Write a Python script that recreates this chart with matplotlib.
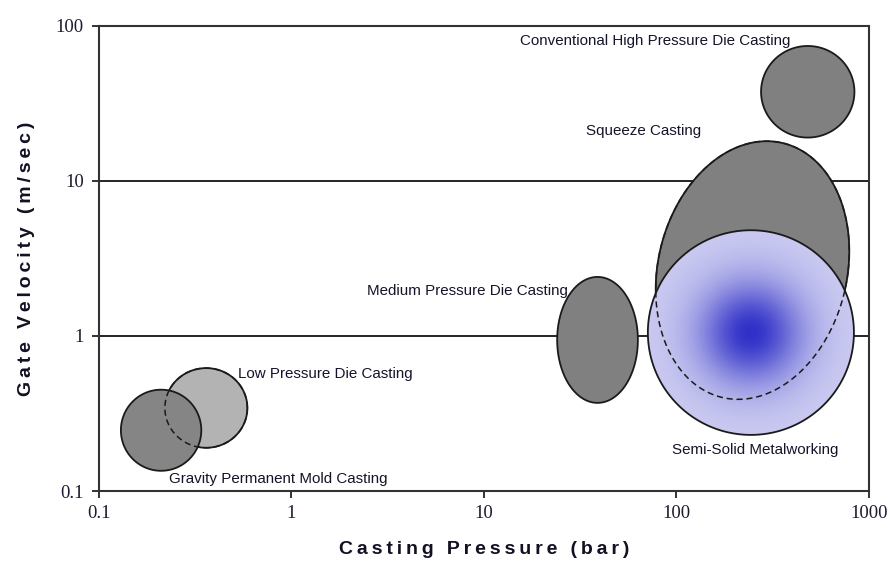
import numpy as np
import matplotlib.pyplot as plt
from matplotlib.patches import Polygon

# casting process windows: pressure range (bar) and gate velocity range (m/sec)
processes = ["Conventional High Pressure Die Casting", "Squeeze Casting",
             "Semi-Solid Metalworking", "Medium Pressure Die Casting",
             "Low Pressure Die Casting", "Gravity Permanent Mold Casting"]
pressure_lo = [275, 79, 71, 24, 0.22, 0.13]
pressure_hi = [840, 780, 835, 63, 0.59, 0.34]
velocity_lo = [19, 0.39, 0.23, 0.37, 0.19, 0.135]
velocity_hi = [74, 18, 4.8, 2.4, 0.62, 0.45]

ticks = [0.1, 1, 10, 100, 1000]
tick_labels = ["0.1", "1", "10", "100", "1000"]

# where each name is written (left edge, middle of text)
label_x = [15.4, 33.9, 94.8, 2.47, 0.527, 0.231]
label_y = [80, 20.8, 0.184, 1.94, 0.567, 0.119]


def outline(i, shear=0.0, scale=1.0, n=240):
    # ellipse in log-log space, returned as data coordinates
    lx0, lx1 = np.log10(pressure_lo[i]), np.log10(pressure_hi[i])
    ly0, ly1 = np.log10(velocity_lo[i]), np.log10(velocity_hi[i])
    cx, cy = (lx0 + lx1) / 2, (ly0 + ly1) / 2
    a, b = (lx1 - lx0) / 2 * scale, (ly1 - ly0) / 2 * scale
    t = np.linspace(0, 2 * np.pi, n)
    u, v = a * np.cos(t), b * np.sin(t)
    return np.column_stack([10 ** (cx + u + shear * v), 10 ** (cy + v)])


def spaced(s):
    # loose letter spacing for the axis titles
    return "\u2009".join(s)


fig = plt.figure(figsize=(8.9, 5.66), dpi=100)
ax = fig.add_axes([0.1112, 0.1325, 0.8652, 0.8221])
ax.set_xscale("log")
ax.set_yscale("log")
ax.set_xlim(0.1, 1000)
ax.set_ylim(0.1, 100)

for yv in [1, 10]:
    ax.axhline(yv, color="black", lw=1.2, zorder=1)

edge = "#1a1a1a"
squeeze_shear = 0.089

def blob(i, color, z, shear=0.0):
    ax.add_patch(Polygon(outline(i, shear), closed=True, facecolor=color,
                         edgecolor=edge, lw=1.3, zorder=z))

def dashed(i, z, shear=0.0):
    ax.add_patch(Polygon(outline(i, shear), closed=True, fill=False,
                         edgecolor=edge, lw=1.1, ls=(0, (4, 2.5)), zorder=z))

# high pressure, squeeze and medium pressure
blob(0, "#808080", 3)
blob(1, "#808080", 3, squeeze_shear)
blob(3, "#808080", 3)

# semi-solid: radial blue shading built from concentric rings
c_edge = np.array([200, 200, 240]) / 255
c_mid = np.array([48, 48, 200]) / 255
sig = 0.5
base = np.exp(-(1 / sig) ** 2)
for r in np.linspace(1.0, 0.01, 90):
    f = (np.exp(-(r / sig) ** 2) - base) / (1 - base)
    col = c_edge + (c_mid - c_edge) * f
    ax.add_patch(Polygon(outline(2, scale=r), closed=True, facecolor=col,
                         edgecolor="none", zorder=4))
ax.add_patch(Polygon(outline(2), closed=True, fill=False, edgecolor=edge,
                     lw=1.3, zorder=5))
dashed(1, 6, squeeze_shear)

# low pressure behind gravity mold
blob(4, "#b3b3b3", 3)
blob(5, "#858585", 4)
dashed(4, 5)

for name, x, y in zip(processes, label_x, label_y):
    ax.text(x, y, name, fontsize=10.9, family="Liberation Sans",
            color="#14142a", ha="left", va="center", zorder=2)

ax.set_xticks(ticks)
ax.set_xticklabels(tick_labels)
ax.set_yticks(ticks[:-1])
ax.set_yticklabels(tick_labels[:-1])
ax.minorticks_off()
ax.tick_params(direction="out", length=5, width=1.4, color="#333333",
               labelsize=13.5, labelcolor="#1c1c30")
ax.tick_params(axis="x", pad=5)
ax.tick_params(axis="y", pad=6)
for lab in ax.get_xticklabels() + ax.get_yticklabels():
    lab.set_family("Liberation Serif")
for sp in ax.spines.values():
    sp.set_linewidth(1.5)
    sp.set_color("#333333")

title_font = dict(fontsize=14, fontweight="bold", color="#111122",
                  family=["Liberation Sans", "DejaVu Sans"])
ax.set_xlabel(spaced("Casting Pressure (bar)"), **title_font)
ax.set_ylabel(spaced("Gate Velocity (m/sec)"), **title_font)
ax.xaxis.set_label_coords(0.5, -0.108)
ax.yaxis.set_label_coords(-0.083, 0.5)

fig.savefig("out.png", dpi=100)
